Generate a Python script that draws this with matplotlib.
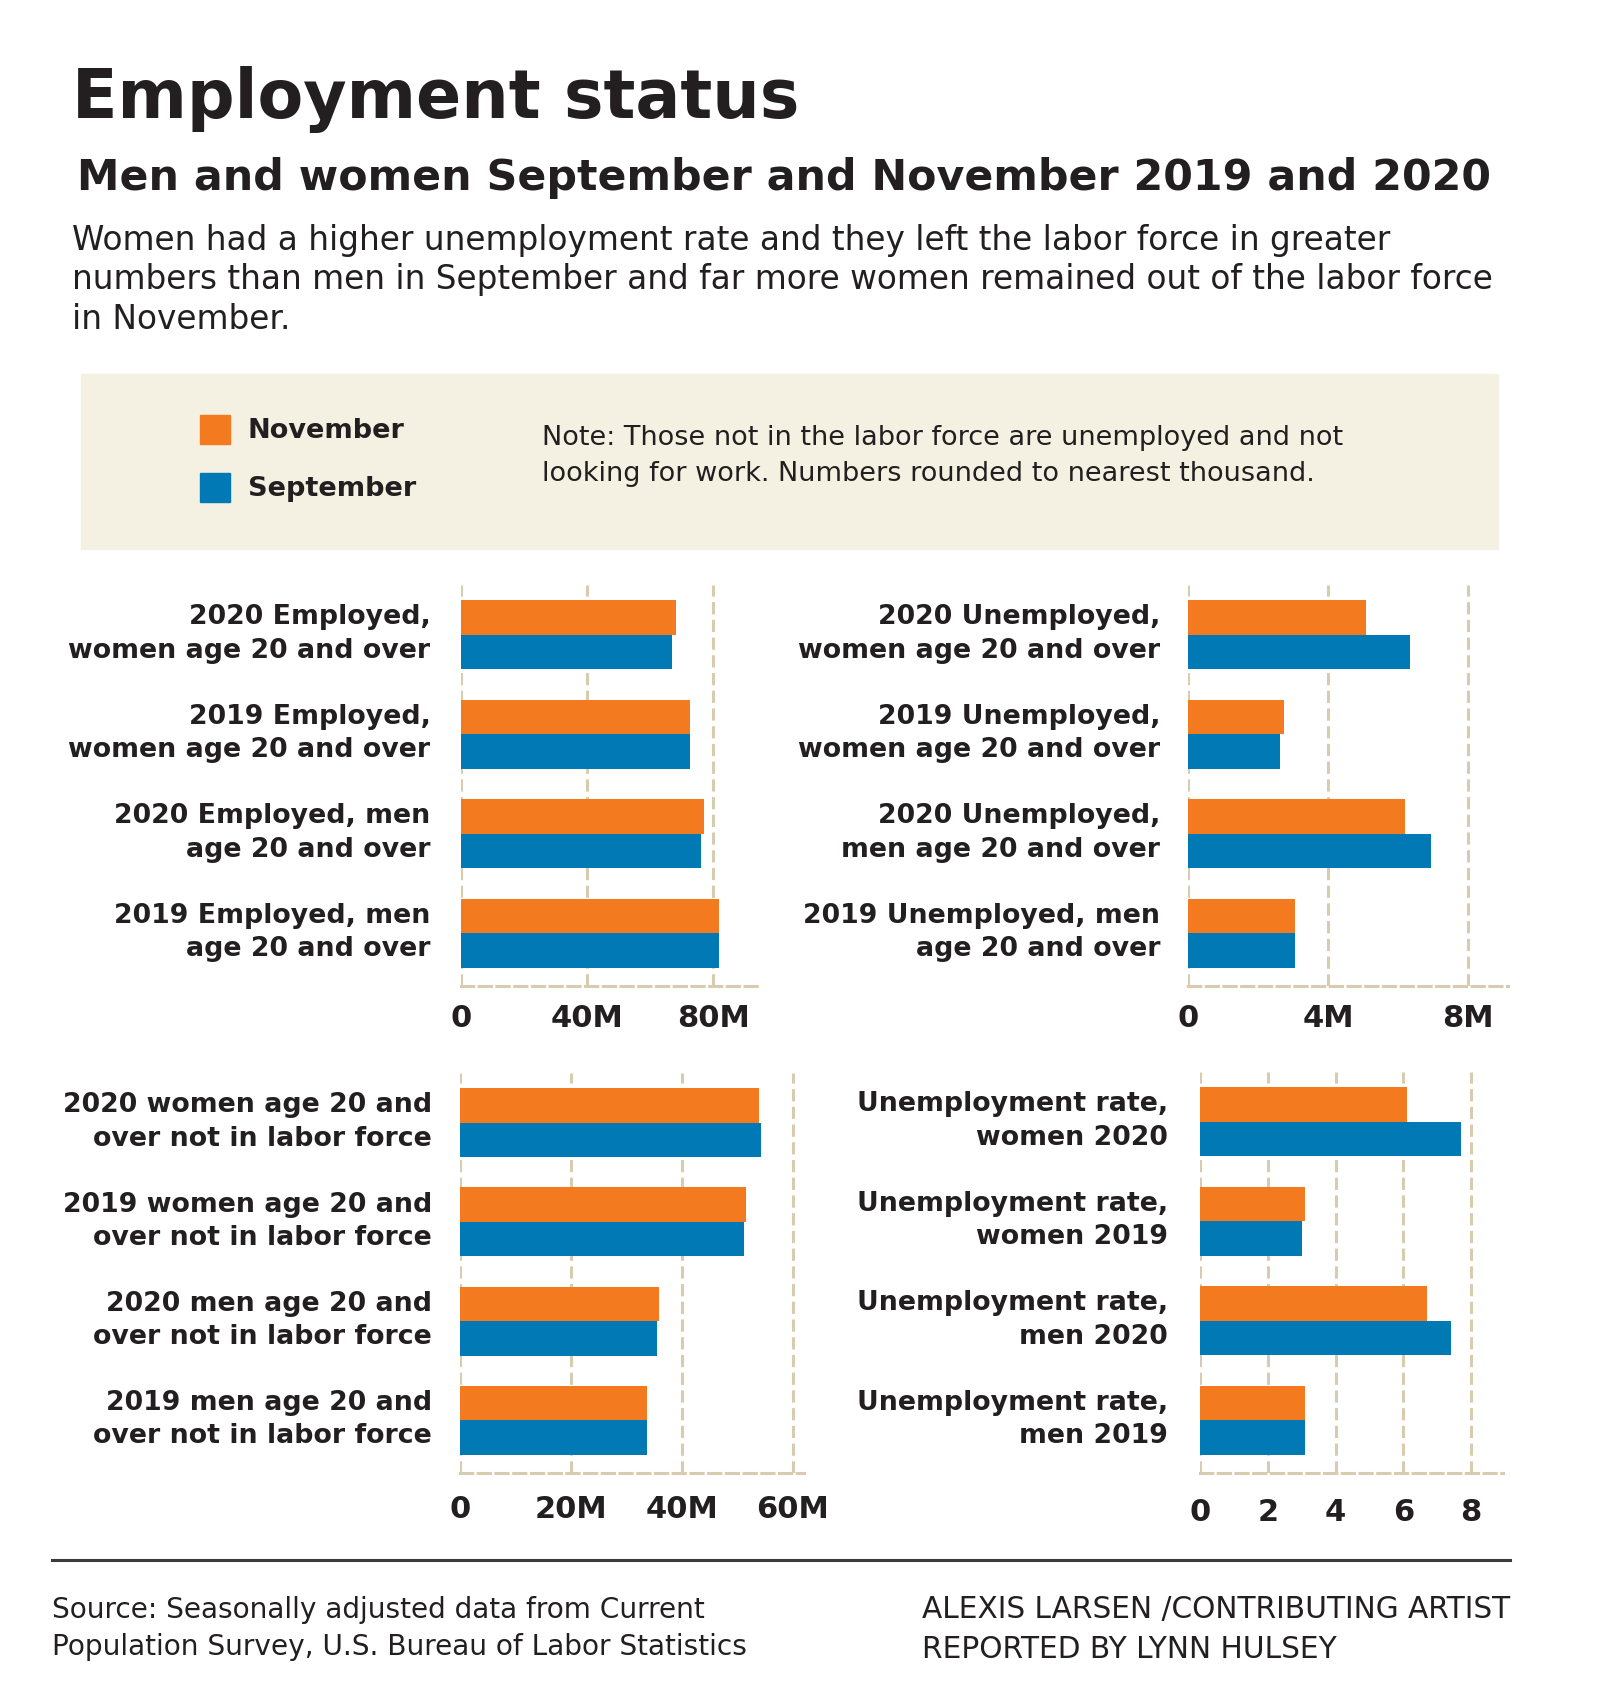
import numpy as np
import matplotlib.pyplot as plt
from matplotlib.patches import Rectangle

W, H = 1600, 1707
orange = '#f47a20'
blue = '#0079b4'
grid_c = '#d9cbb0'
ink = '#231f20'
cream = '#f4f1e3'

# data
labels_emp = ['2020 Employed,\nwomen age 20 and over', '2019 Employed,\nwomen age 20 and over',
              '2020 Employed, men\nage 20 and over', '2019 Employed, men\nage 20 and over']
nov_emp = [68.3, 72.5, 77.1, 81.8]
sep_emp = [66.8, 72.5, 76.3, 81.8]

labels_unemp = ['2020 Unemployed,\nwomen age 20 and over', '2019 Unemployed,\nwomen age 20 and over',
                '2020 Unemployed,\nmen age 20 and over', '2019 Unemployed, men\nage 20 and over']
nov_unemp = [5.07, 2.73, 6.21, 3.05]
sep_unemp = [6.33, 2.62, 6.93, 3.05]

labels_nilf = ['2020 women age 20 and\nover not in labor force', '2019 women age 20 and\nover not in labor force',
               '2020 men age 20 and\nover not in labor force', '2019 men age 20 and\nover not in labor force']
nov_nilf = [53.9, 51.5, 35.9, 33.7]
sep_nilf = [54.3, 51.2, 35.5, 33.7]

labels_rate = ['Unemployment rate,\nwomen 2020', 'Unemployment rate,\nwomen 2019',
               'Unemployment rate,\nmen 2020', 'Unemployment rate,\nmen 2019']
nov_rate = [6.1, 3.1, 6.7, 3.1]
sep_rate = [7.7, 3.0, 7.4, 3.1]

ticks_emp, tlab_emp = [0, 40, 80], ['0', '40M', '80M']
ticks_unemp, tlab_unemp = [0, 4, 8], ['0', '4M', '8M']
ticks_nilf, tlab_nilf = [0, 20, 40, 60], ['0', '20M', '40M', '60M']
ticks_rate, tlab_rate = [0, 2, 4, 6, 8], ['0', '2', '4', '6', '8']

plt.rcParams['font.family'] = ['DejaVu Sans']

fig = plt.figure(figsize=(W / 100, H / 100), dpi=100)
fig.patch.set_facecolor('white')


def px_axes(left, right, top, bottom):
    return fig.add_axes([left / W, 1 - bottom / H, (right - left) / W, (bottom - top) / H])


def ftext(x, y, s, **kw):
    fig.text(x / W, 1 - y / H, s, color=ink, va='baseline', **kw)


def panel(ax, labels, nov, sep, ticks, tlabels, xmax, lpad, tpad):
    y = np.arange(len(labels))
    h = 0.347
    ax.barh(y - h / 2, nov, height=h, color=orange, zorder=2)
    ax.barh(y + h / 2, sep, height=h, color=blue, zorder=2)
    for t in ticks:
        ax.axvline(t, color=grid_c, lw=2.2, dashes=(4, 1.8), zorder=1)
    ax.set_xlim(0, xmax)
    ax.set_ylim(3.53, -0.5)
    for s in ['top', 'right', 'left']:
        ax.spines[s].set_visible(False)
    ax.spines['bottom'].set_color(grid_c)
    ax.spines['bottom'].set_linewidth(2.2)
    ax.spines['bottom'].set_linestyle((0, (4, 1.8)))
    ax.set_yticks([])
    for yi, lab in zip(y, labels):
        ax.annotate(lab, xy=(0, yi), xycoords=('axes fraction', 'data'),
                    xytext=(-lpad, 0.5), textcoords='offset points',
                    ha='right', va='center', fontsize=19.3, fontweight='bold',
                    color=ink, linespacing=1.36)
    ax.set_xticks(ticks, tlabels)
    ax.tick_params(axis='x', length=0, pad=tpad, labelsize=22, labelcolor=ink)
    for lab in ax.get_xticklabels():
        lab.set_fontweight('bold')


ax1 = px_axes(461, 762, 585, 986)
panel(ax1, labels_emp, nov_emp, sep_emp, ticks_emp, tlab_emp, 95.5, 22, 13)
ax2 = px_axes(1188, 1508, 585, 986)
panel(ax2, labels_unemp, nov_unemp, sep_unemp, ticks_unemp, tlab_unemp, 9.14, 20, 13)
ax3 = px_axes(460, 804, 1073, 1473)
panel(ax3, labels_nilf, nov_nilf, sep_nilf, ticks_nilf, tlab_nilf, 62.0, 20, 16)
ax4 = px_axes(1200, 1503, 1072, 1473)
panel(ax4, labels_rate, nov_rate, sep_rate, ticks_rate, tlab_rate, 8.94, 23, 18)

# header
ftext(72, 118, 'Employment status', fontsize=48, fontweight='bold')
ftext(77, 190, 'Men and women September and November 2019 and 2020', fontsize=30.8, fontweight='bold')
desc = ['Women had a higher unemployment rate and they left the labor force in greater',
        'numbers than men in September and far more women remained out of the labor force',
        'in November.']
for i, line in enumerate(desc):
    ftext(72, 250 + 39.5 * i, line, fontsize=23.6)

# legend / note box
fig.add_artist(Rectangle((81 / W, 1 - 549 / H), (1498 - 81) / W, (549 - 374) / H,
                         transform=fig.transFigure, color=cream, zorder=0))
fig.add_artist(Rectangle((200 / W, 1 - 444 / H), 30 / W, 29 / H, transform=fig.transFigure, color=orange))
fig.add_artist(Rectangle((200 / W, 1 - 502 / H), 30 / W, 29 / H, transform=fig.transFigure, color=blue))
ftext(248, 438, 'November', fontsize=19.5, fontweight='bold')
ftext(248, 496, 'September', fontsize=19.5, fontweight='bold')
ftext(542, 445, 'Note: Those not in the labor force are unemployed and not', fontsize=19.5)
ftext(542, 481, 'looking for work. Numbers rounded to nearest thousand.', fontsize=19.5)

# footer
fig.add_artist(plt.Line2D([52 / W, 1510 / W], [1 - 1560 / H, 1 - 1560 / H],
                          transform=fig.transFigure, color='#3a3a3a', lw=2.2))
ftext(52, 1618, 'Source: Seasonally adjusted data from Current', fontsize=20.2)
ftext(52, 1655, 'Population Survey, U.S. Bureau of Labor Statistics', fontsize=20.2)
ftext(922, 1618, 'ALEXIS LARSEN /CONTRIBUTING ARTIST', fontsize=21.3)
ftext(922, 1658, 'REPORTED BY LYNN HULSEY', fontsize=21.3)

fig.savefig('out.png', dpi=100, facecolor='white')
